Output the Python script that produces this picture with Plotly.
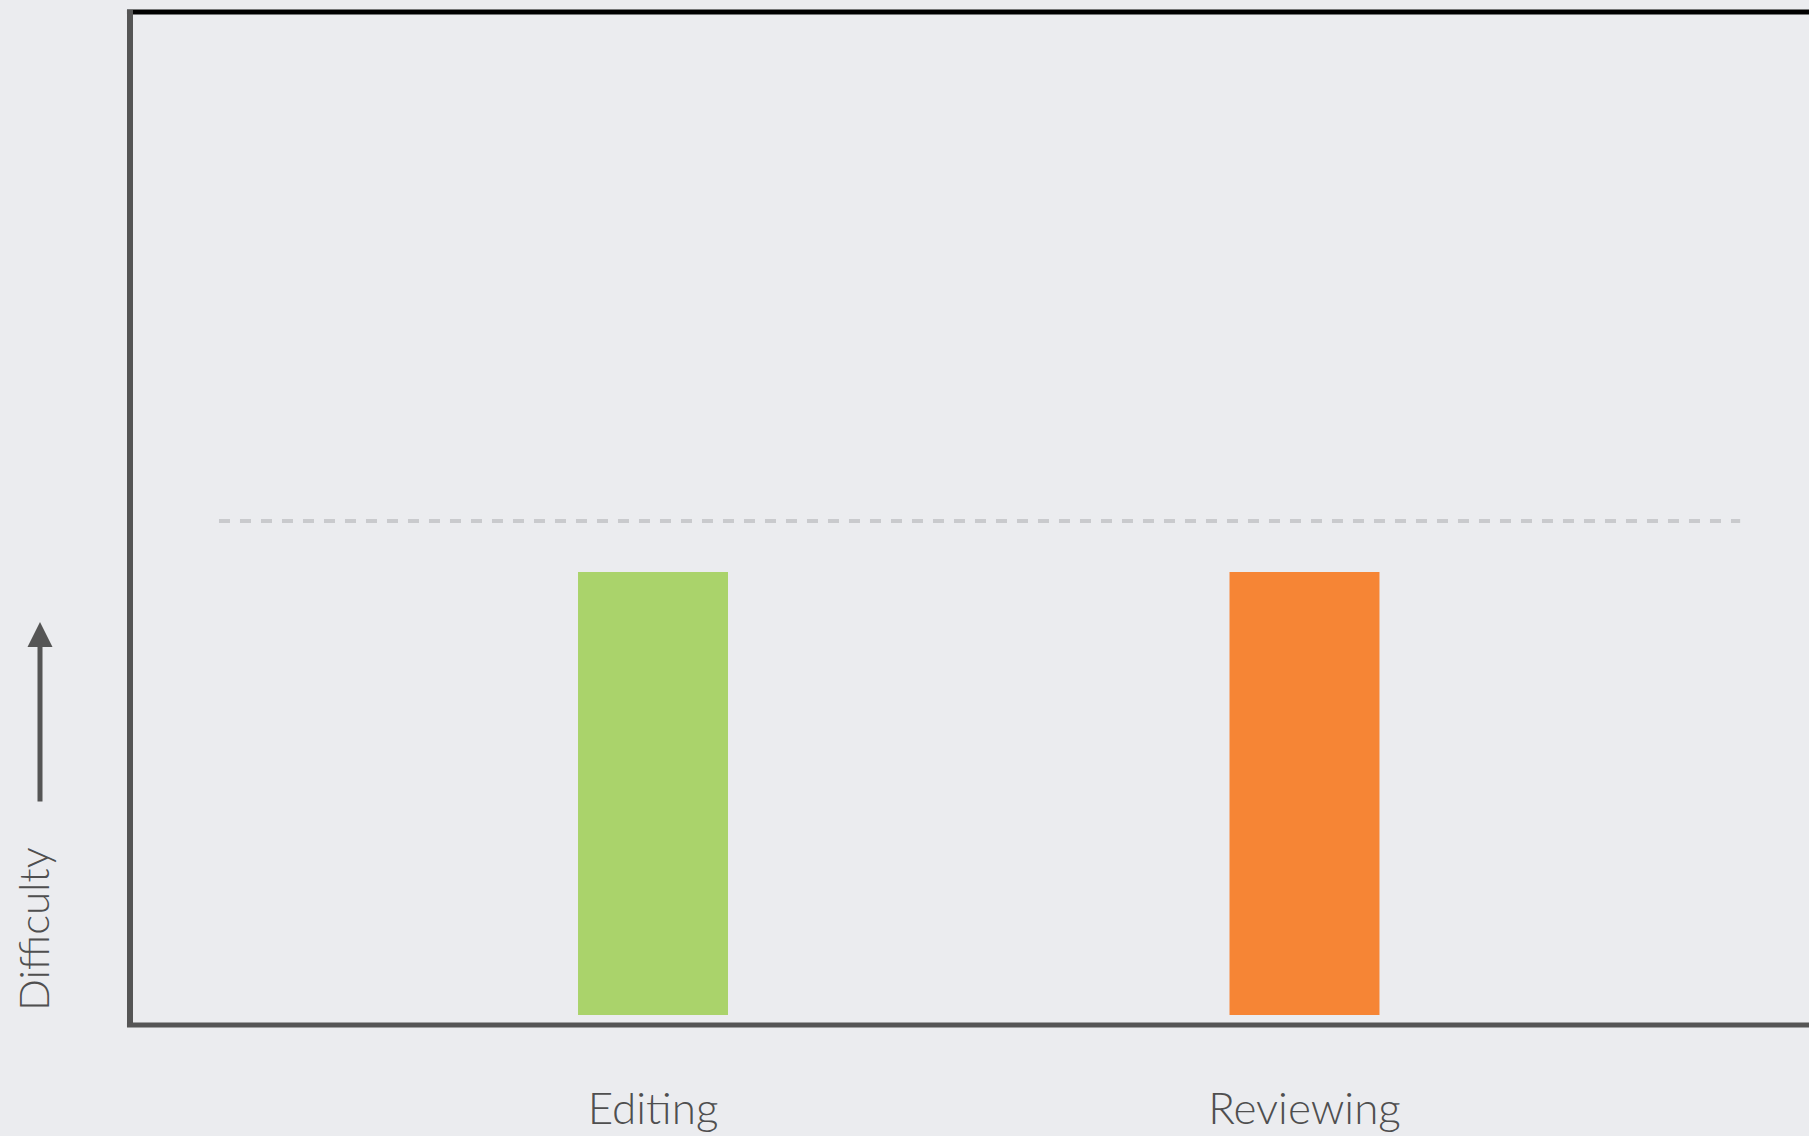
import plotly.graph_objects as go

# ---- data ----
categories = ["Editing", "Reviewing"]
difficulty = [100, 100]
threshold = 111.5
bar_colors = ["#aad36b", "#f68535"]
y_title = "Difficulty"

W, H = 1809, 1136
ML, MR, MT, MB = 130, 0, 12, 111
PW = W - ML - MR
PH = H - MT - MB

fig = go.Figure()
fig.add_trace(go.Bar(
    x=categories, y=difficulty,
    marker=dict(color=bar_colors, line=dict(width=0)),
    width=0.2302, hoverinfo="skip",
))

font_family = "Lato"
label_color = "#4f4f4f"

fig.update_layout(
    width=W, height=H,
    margin=dict(l=ML, r=MR, t=MT, b=MB, pad=0, autoexpand=False),
    paper_bgcolor="#ebecef",
    plot_bgcolor="rgba(0,0,0,0)",
    showlegend=False,
    xaxis=dict(
        type="category", range=[-0.8028, 1.7744], automargin=False,
        showgrid=False, zeroline=False, showline=False,
        ticks="outside", ticklen=45, tickcolor="rgba(0,0,0,0)",
        tickfont=dict(family=font_family, size=44, color=label_color, weight=300),
        fixedrange=True,
    ),
    yaxis=dict(
        range=[-2.257, 226.41], showgrid=False, zeroline=False, automargin=False,
        showline=False, showticklabels=False, ticks="", fixedrange=True,
    ),
    shapes=[
        # threshold dashed line
        dict(type="line", xref="paper", yref="y", x0=0.053, x1=0.959,
             y0=threshold, y1=threshold,
             line=dict(color="#c9cacd", width=4, dash="11px,10px"), layer="below"),
        # top frame line (black)
        dict(type="line", xref="paper", yref="paper", x0=-0.0018, x1=1.0,
             y0=1.0, y1=1.0, line=dict(color="#000000", width=5)),
        # left frame line
        dict(type="line", xref="paper", yref="paper", x0=0, x1=0,
             y0=-0.002, y1=1.002, line=dict(color="#555555", width=6)),
        # bottom frame line
        dict(type="line", xref="paper", yref="paper", x0=-0.0018, x1=1.0,
             y0=0, y1=0, line=dict(color="#555555", width=5)),
    ],
    annotations=[
        dict(text=y_title, xref="paper", yref="paper",
             x=0, y=(1025 - 929) / PH, xanchor="center", yanchor="middle",
             xshift=33 - ML, textangle=-90, showarrow=False,
             font=dict(family=font_family, size=42, color=label_color, weight=300)),
        dict(text="", xref="paper", yref="paper",
             x=(40 - ML) / PW, y=(1025 - 622) / PH,
             ax=0, ay=181, showarrow=True, arrowhead=2, arrowsize=1.0,
             arrowwidth=5, arrowcolor="#555555", standoff=0),
    ],
)

fig.write_html("out.html")
